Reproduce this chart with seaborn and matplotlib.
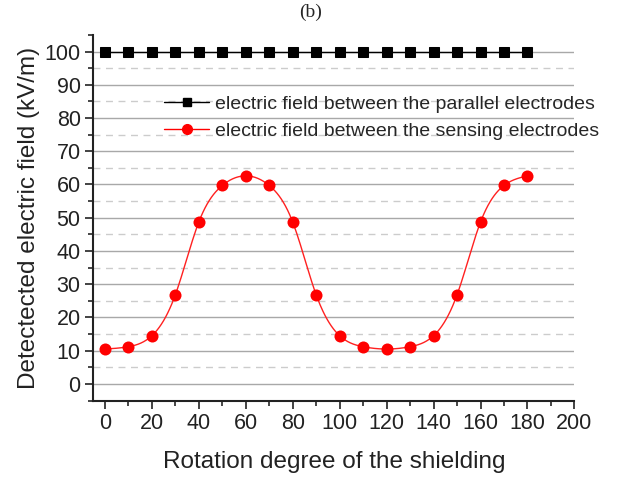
import numpy as np
import pandas as pd
import matplotlib
matplotlib.use("Agg")
import matplotlib.pyplot as plt
from matplotlib.lines import Line2D
from matplotlib.ticker import MultipleLocator
import seaborn as sns

angles = [0, 10, 20, 30, 40, 50, 60, 70, 80, 90, 100, 110, 120, 130, 140, 150, 160, 170, 180]
parallel_field = [100] * 19
sensing_field = [10.5, 11.2, 14.5, 26.8, 48.7, 59.7, 62.6, 59.7, 48.7, 26.8,
                 14.5, 11.2, 10.5, 11.2, 14.5, 26.8, 48.7, 59.7, 62.6]
label_parallel = "electric field between the parallel electrodes"
label_sensing = "electric field between the sensing electrodes"


def natural_spline(x, y, xs):
    x = np.asarray(x, float); y = np.asarray(y, float)
    n = len(x)
    h = np.diff(x)
    A = np.zeros((n, n)); b = np.zeros(n)
    A[0, 0] = 1; A[-1, -1] = 1
    for i in range(1, n - 1):
        A[i, i - 1] = h[i - 1]; A[i, i] = 2 * (h[i - 1] + h[i]); A[i, i + 1] = h[i]
        b[i] = 3 * ((y[i + 1] - y[i]) / h[i] - (y[i] - y[i - 1]) / h[i - 1])
    c = np.linalg.solve(A, b)
    bb = (y[1:] - y[:-1]) / h - h * (2 * c[:-1] + c[1:]) / 3
    d = (c[1:] - c[:-1]) / (3 * h)
    idx = np.clip(np.searchsorted(x, xs) - 1, 0, n - 2)
    dx = xs - x[idx]
    return y[idx] + bb[idx] * dx + c[idx] * dx ** 2 + d[idx] * dx ** 3


sns.set_theme(style="white")
plt.rcParams['font.family'] = ['Liberation Sans', 'DejaVu Sans']

fig = plt.figure(figsize=(6.21, 4.78), dpi=100)
ax = fig.add_axes([0.150, 0.162, 0.775, 0.765])

# grid
for v in range(0, 101, 10):
    ax.axhline(v, color="#a8a8a8", lw=1.0, zorder=0)
for v in range(5, 101, 10):
    ax.axhline(v, color="#cccccc", lw=1.0, ls=(0, (5, 4)), zorder=0)

df_p = pd.DataFrame({"angle": angles, "field": parallel_field})
df_s = pd.DataFrame({"angle": angles, "field": sensing_field})
xs = np.linspace(0, 180, 600)
df_smooth = pd.DataFrame({"angle": xs, "field": natural_spline(angles, sensing_field, xs)})

sns.lineplot(data=df_p, x="angle", y="field", color="black", lw=1.0, marker="s",
             markersize=7, markeredgecolor="black", ax=ax, zorder=3)
sns.lineplot(data=df_smooth, x="angle", y="field", color="#ff2020", lw=1.0, ax=ax, zorder=3)
sns.scatterplot(data=df_s, x="angle", y="field", color="#ff0000", s=75, edgecolor="#ff0000",
                linewidth=0, ax=ax, zorder=4)

ax.set_xlim(-5, 200)
ax.set_ylim(-5, 105)
ax.xaxis.set_major_locator(MultipleLocator(20))
ax.xaxis.set_minor_locator(MultipleLocator(10))
ax.yaxis.set_major_locator(MultipleLocator(10))
ax.yaxis.set_minor_locator(MultipleLocator(5))
ax.set_yticks(range(0, 101, 10))
ax.tick_params(axis="both", which="major", direction="out", length=6, width=1.2,
               labelsize=15.5, colors="#222222", bottom=True, left=True, pad=3)
ax.tick_params(axis="both", which="minor", direction="out", length=3.5, width=1.2,
               bottom=True, left=True)
for s in ["top", "right"]:
    ax.spines[s].set_visible(False)
for s in ["left", "bottom"]:
    ax.spines[s].set_color("#222222")
    ax.spines[s].set_linewidth(1.5)

ax.set_xlabel("Rotation degree of the shielding", fontsize=17.5, color="#222222", labelpad=12)
ax.set_ylabel("Detectected electric field (kV/m)", fontsize=17.5, color="#222222", labelpad=3)

handles = [
    Line2D([], [], color="black", lw=1.0, marker="s", markersize=6),
    Line2D([], [], color="#ff0000", lw=1.0, marker="o", markersize=7),
]
ax.legend(handles, [label_parallel, label_sensing], frameon=False, fontsize=14,
          loc="upper left", bbox_to_anchor=(0.148, 0.835), handlelength=2.3,
          handletextpad=0.3, labelspacing=0.5, borderaxespad=0, borderpad=0)

fig.text(0.5, 0.992, "(b)", ha="center", va="top", fontsize=14, family="Liberation Serif")

fig.savefig("out.png", dpi=100)
